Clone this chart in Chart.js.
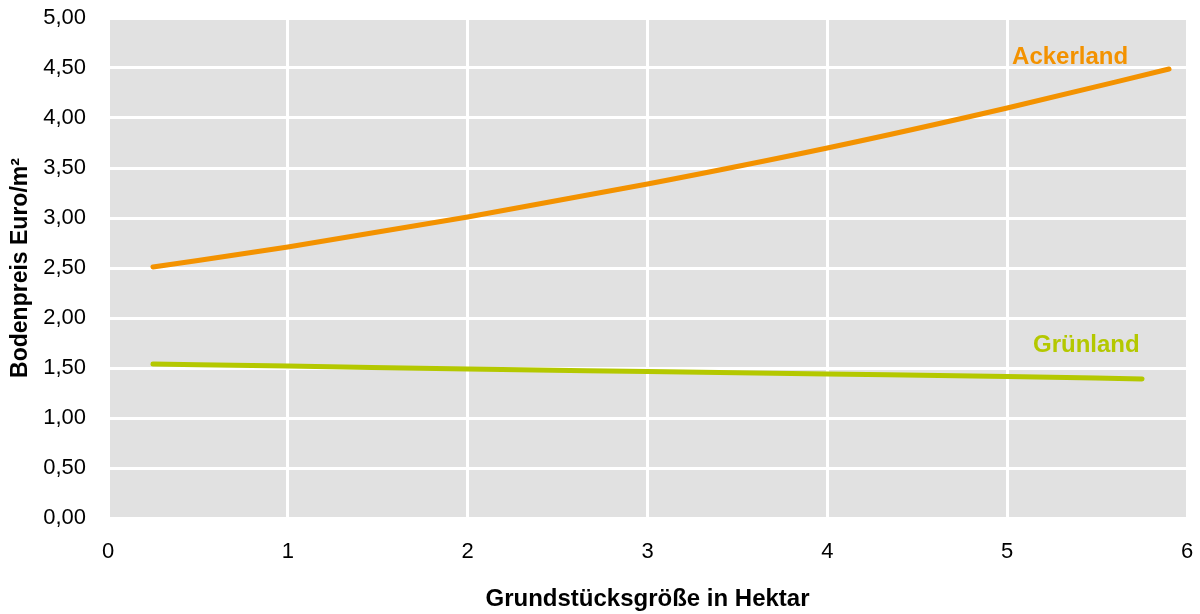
<!DOCTYPE html>
<html>
<head>
<meta charset="utf-8">
<script src="https://cdn.jsdelivr.net/npm/chart.js@4.4.1/dist/chart.umd.min.js"></script>
<style>
  html,body{margin:0;padding:0;background:#fff;}
  #wrap{width:1200px;height:614px;}
</style>
</head>
<body>
<div id="wrap"><canvas id="c" width="1200" height="614"></canvas></div>
<script>
// Bodenpreise nach Grundstücksgröße
const ackerX = [0.25, 1, 2, 3, 4, 5, 5.9];
const ackerY = [2.51, 2.71, 3.01, 3.34, 3.70, 4.10, 4.49];
const gruenX = [0.25, 1, 2, 3, 4, 5, 5.75];
const gruenY = [1.54, 1.52, 1.49, 1.465, 1.44, 1.415, 1.39];
const seriesNames = ['Ackerland', 'Grünland'];
const labelX = [5.35, 5.44];
const labelY = [4.61, 1.73];

const colors = ['#f39200', '#b4c800'];
const fmt = v => v.toFixed(2).replace('.', ',');
const pts = (xs, ys) => xs.map((x, i) => ({x, y: ys[i]}));

// grey plot background
const bgPlugin = {
  id: 'bg',
  beforeDraw(chart) {
    const {ctx, chartArea: a} = chart;
    ctx.save(); ctx.fillStyle = '#e1e1e1';
    ctx.fillRect(a.left, a.top, a.right - a.left, a.bottom - a.top);
    ctx.restore();
  }
};

// series names placed in data space
const namePlugin = {
  id: 'names',
  afterDatasetsDraw(chart) {
    const {ctx, scales: {x, y}} = chart;
    ctx.save();
    ctx.font = 'bold 24px "Liberation Sans", Arial, sans-serif';
    ctx.textAlign = 'center'; ctx.textBaseline = 'middle';
    seriesNames.forEach((n, i) => {
      ctx.fillStyle = colors[i];
      ctx.fillText(n, x.getPixelForValue(labelX[i]), y.getPixelForValue(labelY[i]));
    });
    ctx.restore();
  }
};

Chart.defaults.font.family = '"Liberation Sans", Arial, sans-serif';
Chart.defaults.color = '#000';

new Chart(document.getElementById('c'), {
  type: 'scatter',
  data: {
    datasets: [
      {label: seriesNames[0], data: pts(ackerX, ackerY), showLine: true, borderColor: colors[0],
       borderWidth: 5, pointRadius: 0, tension: 0.4, borderCapStyle: 'round', cubicInterpolationMode: 'monotone'},
      {label: seriesNames[1], data: pts(gruenX, gruenY), showLine: true, borderColor: colors[1],
       borderWidth: 5, pointRadius: 0, tension: 0.4, borderCapStyle: 'round', cubicInterpolationMode: 'monotone'}
    ]
  },
  options: {
    responsive: false,
    animation: false,
    layout: {padding: {top: 18, right: 13, left: 0, bottom: 0}},
    plugins: {legend: {display: false}, tooltip: {enabled: false}},
    scales: {
      x: {
        type: 'linear', min: 0, max: 6,
        ticks: {stepSize: 1, font: {size: 22}, padding: 21},
        grid: {color: '#fff', lineWidth: 3, drawTicks: false},
        border: {display: false},
        title: {display: true, text: 'Grundstücksgröße in Hektar', font: {size: 24, weight: 'bold'}, padding: {top: 22, bottom: 0}},
        afterFit(s) { s.height = 96; s.paddingLeft = 0; s.paddingRight = 0; }
      },
      y: {
        min: 0, max: 5,
        ticks: {stepSize: 0.5, font: {size: 22}, padding: 22, callback: v => fmt(v)},
        grid: {color: '#fff', lineWidth: 3, drawTicks: false},
        border: {display: false},
        title: {display: true, text: 'Bodenpreis Euro/m²', font: {size: 23, weight: 'bold'}, padding: {bottom: 0, top: 7}},
        afterFit(s) { s.width = 108; s.paddingTop = 0; s.paddingBottom = 0; }
      }
    }
  },
  plugins: [bgPlugin, namePlugin]
});
</script>
</body>
</html>
